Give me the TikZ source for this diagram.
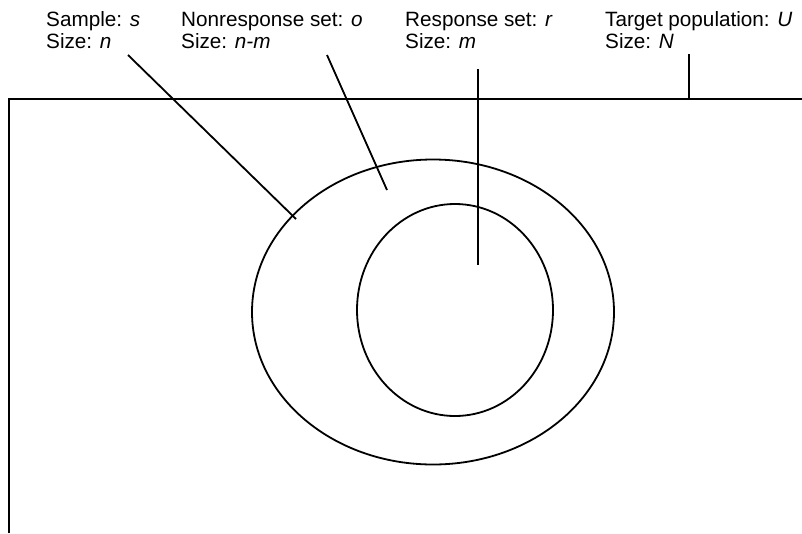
\documentclass[tikz,border=0pt]{standalone}
\usepackage{fontspec}
\setmainfont{Liberation Sans}
\usetikzlibrary{shapes.geometric}
\begin{document}
\begin{tikzpicture}[x=1pt,y=-1pt,
  lbl/.style={anchor=base west,align=left,inner sep=0pt,font=\fontsize{20.7}{21.8}\selectfont},
  ring/.style={draw,ellipse,line width=1.8pt,inner sep=0pt},
  conn/.style={draw,line width=1.8pt}]
\useasboundingbox (0,0) rectangle (802,533);
% frame of the target population
\coordinate (fbl) at (9,533);
\coordinate (ftl) at (9,99);
\coordinate (ftr) at (802,99);
\draw[line width=1.8pt] (fbl) -- (ftl) -- (ftr);
% sets
\node[ring,minimum width=362pt,minimum height=305pt] (outer) at (433,312) {};
\node[ring,minimum width=196pt,minimum height=212pt] (inner) at (455,310) {};
% labels (anchor is the baseline of the second line)
\node[lbl] (ls) at (46,48) {Sample: \textit{s}\\Size: \textit{n}};
\node[lbl] (lo) at (181,48) {Nonresponse set: \textit{o}\\Size: \textit{n-m}};
\node[lbl] (lr) at (405,48) {Response set: \textit{r}\\Size: \textit{m}};
\node[lbl] (lu) at (605,48) {Target population: \textit{U}\\Size: \textit{N}};
% connector ends
\coordinate (s1) at (128,55);  \coordinate (s2) at (296,219);
\coordinate (o1) at (327,55);  \coordinate (o2) at (387,190);
\coordinate (r1) at (478,69);  \coordinate (r2) at (478,265);
\coordinate (u1) at (689,54);  \coordinate (u2) at (689,99);
\draw[conn] (s1) -- (s2);
\draw[conn] (o1) -- (o2);
\draw[conn] (r1) -- (r2);
\draw[conn] (u1) -- (u2);
\end{tikzpicture}
\end{document}
